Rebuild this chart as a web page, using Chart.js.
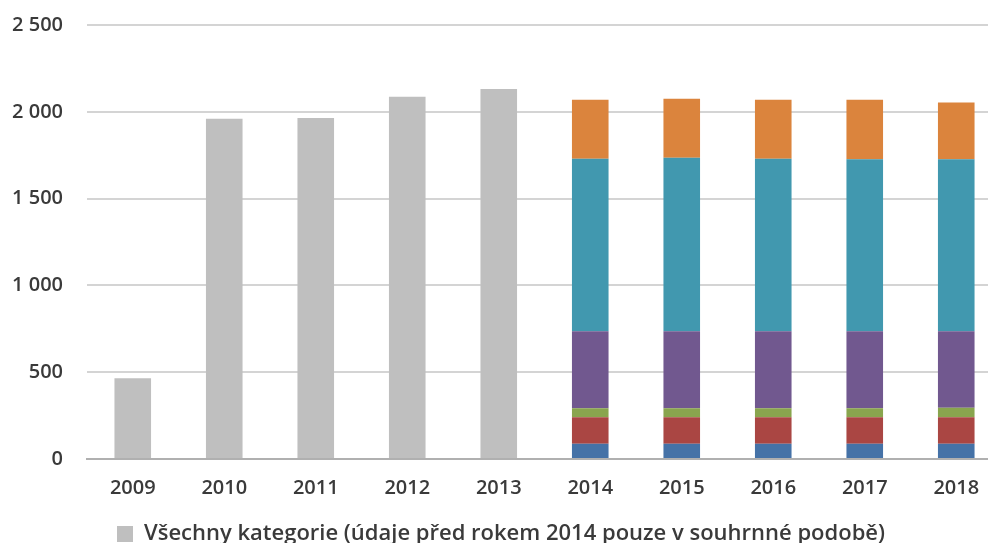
<!DOCTYPE html>
<html>
<head>
<meta charset="utf-8">
<script src="https://cdn.jsdelivr.net/npm/chart.js@4"></script>
<style>
  html, body { margin: 0; padding: 0; overflow: hidden; background: #fff; }
  #wrap { width: 1002px; height: 543px; overflow: hidden; }
  #myChart { margin-top: -11px; display: block; }
</style>
</head>
<body>
<div id="wrap"><canvas id="myChart" width="1002" height="566"></canvas></div>
<script>
const years = ["2009", "2010", "2011", "2012", "2013", "2014", "2015", "2016", "2017", "2018"];
const allCategories = [465, 1960, 1965, 2086, 2132, null, null, null, null, null];
const catBlue   = [null, null, null, null, null, 88, 88, 88, 88, 88];
const catRed    = [null, null, null, null, null, 153, 153, 153, 153, 153];
const catGreen  = [null, null, null, null, null, 52, 52, 52, 52, 54];
const catPurple = [null, null, null, null, null, 443, 443, 443, 443, 441];
const catTeal   = [null, null, null, null, null, 994, 1000, 994, 991, 990];
const catOrange = [null, null, null, null, null, 339, 339, 339, 342, 327];
const yTicks = [0, 500, 1000, 1500, 2000, 2500];

const font = { family: "'Open Sans', sans-serif", size: 20, weight: "600" };
const legendFont = { family: "'Open Sans', sans-serif", size: 22, weight: "600" };
const textColor = "#3a3a3a";

function ds(label, data, color, legend) {
  return {
    label: label, data: data, backgroundColor: color,
    barPercentage: 0.4, categoryPercentage: 1, stack: "s",
    showInLegend: legend
  };
}

const data = {
  labels: years,
  datasets: [
    ds("Všechny kategorie (údaje před rokem 2014 pouze v souhrnné podobě)", allCategories, "#bfbfbf", true),
    ds("a", catBlue, "#4572a7", false),
    ds("b", catRed, "#aa4643", false),
    ds("c", catGreen, "#89a54e", false),
    ds("d", catPurple, "#71588f", false),
    ds("e", catTeal, "#4198af", false),
    ds("f", catOrange, "#db843d", false)
  ]
};

new Chart(document.getElementById("myChart").getContext("2d"), {
  type: "bar",
  data: data,
  options: {
    responsive: false,
    animation: false,
    layout: { padding: 0 },
    scales: {
      x: {
        stacked: true,
        afterFit: (axis) => { axis.height += 4; },
        grid: { display: false },
        border: { color: "#b0b0b0", width: 2 },
        ticks: { color: textColor, font: font, padding: 9 }
      },
      y: {
        stacked: true,
        min: 0, max: 2500,
        afterBuildTicks: (axis) => { axis.ticks = yTicks.map(v => ({ value: v })); },
        afterFit: (axis) => { axis.width = 87; },
        grid: { color: "#d4d4d4", lineWidth: 2, drawTicks: false },
        border: { display: false },
        ticks: {
          color: textColor, font: font, padding: 24,
          callback: (v) => v >= 1000 ? Math.floor(v / 1000) + " " + String(v % 1000).padStart(3, "0") : String(v)
        }
      }
    },
    plugins: {
      tooltip: { enabled: false },
      legend: {
        position: "bottom",
        align: "center",
        labels: {
          color: textColor,
          font: legendFont,
          boxWidth: 16, boxHeight: 16,
          padding: 10,
          filter: (item, d) => d.datasets[item.datasetIndex].showInLegend
        }
      }
    }
  }
});
</script>
</body>
</html>
